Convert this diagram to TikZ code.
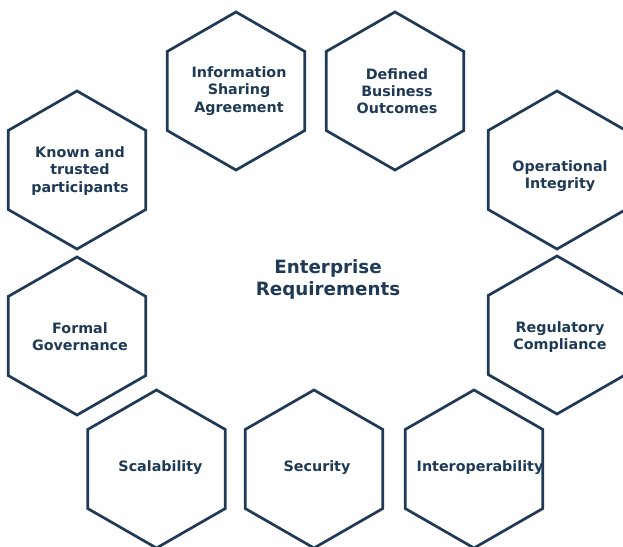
\documentclass[tikz,border=0pt]{standalone}
\usepackage{fontspec}
\setmainfont{DejaVu Sans}
\definecolor{navy}{HTML}{1F3A56}
\begin{document}
\begin{tikzpicture}[x=1pt,y=-1pt,
  hexline/.style={draw=navy,line width=2.7pt,line join=miter},
  hexlabel/.style={text=navy,font=\bfseries\fontsize{14.3}{17.2}\selectfont,align=center,inner sep=0pt},
  title/.style={text=navy,font=\bfseries\fontsize{18.3}{22}\selectfont,align=center,inner sep=0pt}]
\useasboundingbox (0,0) rectangle (623,546);
\def\hexR{79}
\def\hexW{68.8}
\foreach \cx/\cy/\nm in {77/170/known,236/91/info,395/91/defined,557/170/oper,77/336/formal,557/335/regul,156.5/469/scal,314/469/secu,474/469/inter}{
  \draw[hexline] (\cx,\cy-\hexR) -- (\cx-\hexW,\cy-\hexR/2) -- (\cx-\hexW,\cy+\hexR/2) -- (\cx,\cy+\hexR) -- (\cx+\hexW,\cy+\hexR/2) -- (\cx+\hexW,\cy-\hexR/2) -- cycle;
}
\node[hexlabel] (known) at (80,171) {Known and\\trusted\\participants};
\node[hexlabel] (info) at (239,91) {Information\\Sharing\\Agreement};
\node[hexlabel] (defined) at (397,91) {Defined\\Business\\Outcomes};
\node[hexlabel] (oper) at (560,176.5) {Operational\\Integrity};
\node[hexlabel] (formal) at (80,337) {Formal\\Governance};
\node[hexlabel] (regul) at (560,337) {Regulatory\\Compliance};
\node[hexlabel] (scal) at (160.5,468) {Scalability};
\node[hexlabel] (secu) at (317,468) {Security};
\node[hexlabel] (inter) at (480,468) {Interoperability};
\node[title] (center) at (328,279) {Enterprise\\Requirements};
\end{tikzpicture}
\end{document}
